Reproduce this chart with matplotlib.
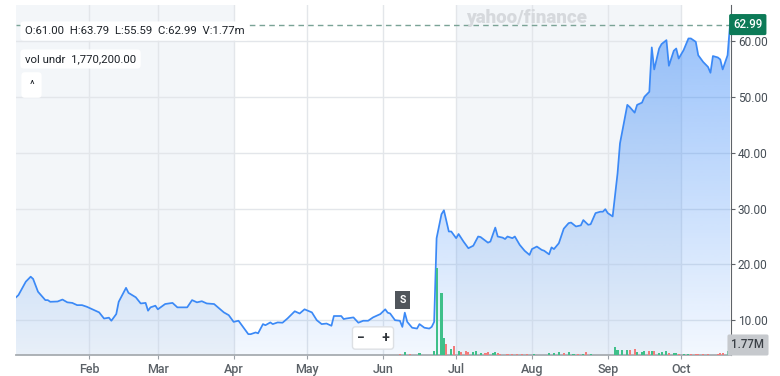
import matplotlib.pyplot as plt
import matplotlib.dates as mdates
import matplotlib.transforms as mtransforms
from matplotlib.lines import Line2D
import numpy as np
import pandas as pd

plt.rcParams['font.family'] = ['Roboto', 'DejaVu Sans']

# Price line (2025)
price_dates = ['01-02', '01-03', '01-06', '01-08', '01-09', '01-11', '01-14', '01-15', '01-16', '01-19',
               '01-21', '01-23', '01-25', '01-27', '01-29', '01-31', '02-05', '02-07', '02-09', '02-10',
               '02-12', '02-13', '02-16', '02-17', '02-20', '02-22', '02-24', '02-25', '02-26', '02-28',
               '03-01', '03-04', '03-07', '03-09', '03-13', '03-15', '03-17', '03-19', '03-21', '03-24',
               '03-28', '03-30', '04-01', '04-03', '04-07', '04-08', '04-10', '04-11', '04-13', '04-14',
               '04-16', '04-17', '04-19', '04-21', '04-23', '04-26', '04-28', '04-30', '05-03', '05-05',
               '05-07', '05-09', '05-11', '05-12', '05-15', '05-16', '05-17', '05-20', '05-22', '05-24',
               '05-26', '05-28', '05-31', '06-02', '06-03', '06-04', '06-06', '06-08', '06-09', '06-10',
               '06-11', '06-13', '06-15', '06-16', '06-18', '06-20', '06-21', '06-22', '06-23', '06-25',
               '06-26', '06-28', '06-29', '07-01', '07-02', '07-04', '07-06', '07-08', '07-10', '07-11',
               '07-14', '07-15', '07-17', '07-18', '07-20', '07-21', '07-22', '07-24', '07-25', '07-27',
               '07-29', '07-31', '08-01', '08-03', '08-05', '08-06', '08-08', '08-09', '08-10', '08-12',
               '08-14', '08-16', '08-17', '08-19', '08-21', '08-22', '08-24', '08-25', '08-27', '08-29',
               '08-30', '08-31', '09-01', '09-03', '09-05', '09-06', '09-09', '09-10', '09-12', '09-13',
               '09-15', '09-16', '09-18', '09-19', '09-20', '09-22', '09-23', '09-25', '09-26', '09-28',
               '09-29', '09-30', '10-02', '10-04', '10-05', '10-07', '10-08', '10-10', '10-12', '10-13',
               '10-14', '10-16', '10-17', '10-18', '10-20', '10-21']
prices = [14.1, 14.5, 16.9, 17.8, 17.4, 15.1, 13.6, 13.6, 13.3, 13.35,
          13.7, 13.2, 13.1, 12.7, 12.7, 12.4, 11.4, 10.3, 10.45, 9.9,
          11.1, 13.3, 15.8, 14.9, 14.1, 13.0, 13.1, 11.7, 12.3, 12.6,
          11.95, 12.9, 13.1, 12.3, 12.3, 13.6, 13.2, 13.4, 13.0, 12.9,
          11.4, 10.9, 9.7, 9.9, 7.5, 7.5, 7.8, 7.65, 9.3, 9.1,
          9.6, 9.3, 9.6, 9.55, 10.3, 11.6, 11.2, 11.95, 11.4, 10.0,
          9.3, 9.4, 9.0, 10.75, 10.75, 10.2, 10.3, 10.5, 9.55, 9.9,
          9.9, 10.5, 11.1, 11.95, 11.35, 11.2, 10.0, 9.9, 8.8, 11.35,
          9.7, 8.65, 8.5, 9.3, 8.65, 8.5, 8.8, 9.7, 24.7, 29.0,
          29.7, 25.9, 25.9, 24.7, 25.45, 24.1, 22.9, 23.35, 25.0, 24.9,
          23.9, 24.1, 26.6, 25.0, 24.8, 24.55, 25.0, 24.7, 25.0, 23.5,
          22.45, 21.7, 22.75, 23.2, 22.6, 22.45, 21.8, 23.05, 22.75, 23.8,
          26.4, 27.4, 27.5, 26.8, 27.0, 27.95, 27.1, 27.2, 29.2, 29.45,
          29.45, 29.9, 29.2, 28.6, 36.3, 41.7, 48.6, 48.2, 47.2, 48.6,
          49.0, 50.05, 50.95, 58.9, 54.95, 58.7, 59.5, 60.2, 55.6, 58.3,
          58.7, 56.9, 58.4, 60.5, 60.5, 59.9, 57.5, 56.3, 55.4, 54.35,
          57.35, 57.1, 56.75, 54.95, 57.5, 62.99]

# Volume bars (millions), True = up day
vol_dates = ['06-08', '06-10', '06-12', '06-16', '06-22', '06-23', '06-25', '06-26', '06-27', '06-29',
             '06-30', '07-02', '07-03', '07-05', '07-06', '07-08', '07-09', '07-11', '07-13', '07-14',
             '07-16', '07-17', '07-18', '07-19', '07-22', '07-24', '07-26', '07-28', '07-30', '08-02',
             '08-08', '08-10', '08-12', '08-14', '08-16', '08-18', '08-20', '08-22', '08-23', '08-25',
             '09-04', '09-05', '09-07', '09-09', '09-10', '09-12', '09-13', '09-15', '09-16', '09-18',
             '09-19', '09-20', '09-22', '09-23', '09-25', '09-26', '09-28', '09-29', '09-30', '10-02',
             '10-04', '10-05', '10-07', '10-08', '10-10', '10-12', '10-16', '10-17', '10-18', '10-20',
             '10-21']
volumes = [0.25, 0.95, 0.25, 0.8, 1.4, 30.7, 21.8, 5.9, 3.8, 2.0,
           3.2, 1.5, 1.06, 1.3, 1.06, 1.06, 1.3, 0.8, 0.8, 1.06,
           0.8, 1.06, 0.6, 0.35, 0.35, 0.35, 0.35, 0.35, 0.35, 0.35,
           0.8, 0.8, 1.2, 0.7, 1.06, 0.5, 0.5, 0.5, 1.06, 0.5,
           2.9, 1.8, 1.8, 1.8, 1.8, 2.1, 1.06, 1.06, 1.4, 1.3,
           1.5, 1.5, 0.8, 0.95, 1.4, 0.8, 0.8, 0.6, 0.5, 0.35,
           0.35, 0.35, 0.35, 0.35, 0.5, 0.35, 0.5, 0.6, 0.7, 1.5,
           1.77]
vol_up = [False, True, False, True, True, True, True, True, False, True,
          False, True, False, False, False, True, True, True, False, False,
          True, True, False, False, False, False, False, False, False, True,
          True, True, True, False, True, True, False, True, False, True,
          True, True, True, True, False, False, True, True, True, False,
          True, False, True, True, True, False, True, True, False, True,
          True, False, False, False, False, False, False, False, False, True,
          True]

months = ['Feb', 'Mar', 'Apr', 'May', 'Jun', 'Jul', 'Aug', 'Sep', 'Oct']
month_starts = ['02-01', '03-01', '04-01', '05-01', '06-01', '07-01', '08-01', '09-01', '10-01']
shaded = [('01-01', '04-01'), ('07-01', '10-01')]
price_ticks = [10, 20, 30, 40, 50, 60]
last_close = 62.99

def to_num(md):
    return mdates.date2num(pd.to_datetime(['2025-' + s for s in md]))

W, H = 780, 376
fig = plt.figure(figsize=(W / 100, H / 100), dpi=100)
rect = [16 / W, 21 / H, 715 / W, 350 / H]
ax = fig.add_axes(rect)
ylo, yhi = 3.76, 66.5

d = to_num(price_dates)
x0, x1 = d[0], d[-1] + 0.4

# quarter shading
for a, b in shaded:
    s, e = to_num([a, b])
    ax.axvspan(s, e, color='#f3f6f9', zorder=0, lw=0)

# gradient area under the line
fill = ax.fill_between(d, prices, ylo, facecolor='none', edgecolor='none')
img = np.zeros((256, 1, 4))
img[..., 0], img[..., 1], img[..., 2] = 56 / 255, 136 / 255, 248 / 255
img[:, 0, 3] = np.linspace(0.54, 0.06, 256)
im = ax.imshow(img, extent=[d[0], d[-1], ylo, yhi], aspect='auto', origin='upper',
               zorder=2, interpolation='bilinear')
im.set_clip_path(fill.get_paths()[0], transform=ax.transData)

ax.plot(d, prices, color='#3b89f6', lw=1.25, zorder=4, solid_joinstyle='round')
ax.axhline(last_close, color='#7aa396', lw=1, ls=(0, (4, 3)), zorder=3)

ax.set_xlim(x0, x1)
ax.set_ylim(ylo, yhi)
ax.set_xticks(to_num(month_starts))
ax.set_xticklabels(months)
ax.set_yticks(price_ticks)
ax.set_yticklabels(['%.2f' % v for v in price_ticks])
ax.yaxis.tick_right()
ax.tick_params(axis='y', length=3, color='#5f6368', labelsize=8.6, labelcolor='#464e56', pad=2)
ax.tick_params(axis='x', length=3, color='#9aa0a6', labelsize=9, labelcolor='#5b6167', pad=3)
for lab in ax.get_xticklabels():
    lab.set_fontweight('medium')
ax.grid(color='#e3e6ea', lw=1)
ax.set_axisbelow(True)
for s in ['left', 'top']:
    ax.spines[s].set_visible(False)
ax.spines['right'].set_color('#5f6368')
ax.spines['bottom'].set_color('#a7acb1')
ax.spines['bottom'].set_linewidth(1.3)

# volume on its own scale
ax2 = fig.add_axes(rect, sharex=ax, facecolor='none')
ax2.bar(to_num(vol_dates), volumes, width=0.85,
        color=['#3fc08a' if u else '#f27c7c' for u in vol_up], zorder=3)
ax2.set_ylim(0, 124)
ax2.set_xlim(x0, x1)
ax2.axis('off')

# last price tag
tr = mtransforms.blended_transform_factory(ax.transAxes, ax.transData)
ax.text(1.003, last_close, '%.2f' % last_close, transform=tr, ha='left', va='center',
        fontsize=8.3, color='white', fontweight='medium', clip_on=False, zorder=6,
        bbox=dict(boxstyle='round,pad=0.35,rounding_size=0.15', fc='#0c7a57', ec='none'))
fig.text(748 / W, 1 - 345 / H, '1.77M', ha='center', va='center', fontsize=8.3,
         color='#3a3f45', fontweight='medium',
         bbox=dict(boxstyle='round,pad=0.35,rounding_size=0.15', fc='#c6c9cd', ec='none'))

# event marker
ax.text(to_num(['06-09'])[0], 13.6, 'S', ha='center', va='center', fontsize=7.5,
        color='white', fontweight='bold', zorder=6,
        bbox=dict(boxstyle='square,pad=0.4', fc='#50555b', ec='none'))

# watermark and overlay labels
fig.text(527 / W, 1 - 18 / H, 'yahoo/finance', ha='center', va='center', fontsize=13.5,
         fontweight='heavy', color='#d6d9dd', zorder=1)
box = dict(boxstyle='round,pad=0.4,rounding_size=0.3', fc='white', ec='none')
fig.text(25 / W, 1 - 31 / H, 'O:61.00  H:63.79  L:55.59  C:62.99  V:1.77m', ha='left',
         va='center', fontsize=8.2, color='#1d2228', bbox=box)
fig.text(25 / W, 1 - 59 / H, 'vol undr  1,770,200.00', ha='left', va='center',
         fontsize=8.2, color='#1d2228', bbox=box)
fig.text(31.5 / W, 1 - 85 / H, '^', ha='center', va='center', fontsize=8,
         color='#1d2228', bbox=dict(boxstyle='round,pad=0.7,rounding_size=0.3', fc='white', ec='none'))

# zoom buttons
fig.text(373 / W, 1 - 338 / H, '\u2212     +', ha='center', va='center', fontsize=10,
         color='#30353b', fontweight='bold',
         bbox=dict(boxstyle='round,pad=0.3,rounding_size=0.2', fc='white', ec='#dde0e4'))
fig.add_artist(Line2D([373 / W, 373 / W], [1 - 331 / H, 1 - 345 / H], color='#dde0e4', lw=1))

fig.savefig('out.png', dpi=100)
